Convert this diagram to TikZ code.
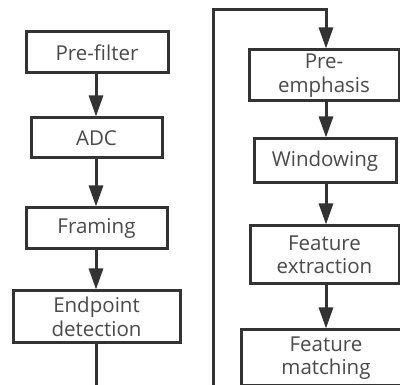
\documentclass[tikz,border=0pt]{standalone}
\usepackage{fontspec}
\setmainfont{Open Sans}
\usetikzlibrary{arrows.meta}
\definecolor{linec}{HTML}{333333}
\definecolor{textc}{HTML}{4A4A4A}
\tikzset{
  blk/.style={draw=linec, line width=3pt, fill=white, align=center, text=textc,
    font=\fontsize{20.5}{23.5}\selectfont, inner sep=0pt, anchor=center},
  conn/.style={draw=linec, line width=3pt, -{Triangle[length=21pt,width=14pt]}},
  plain/.style={draw=linec, line width=3pt}
}
\begin{document}
\begin{tikzpicture}[x=1pt,y=-1pt]
\useasboundingbox (0,0) rectangle (400,385);
\clip (0,0) rectangle (400,385);
\fill[white] (0,0) rectangle (400,385);
\node[blk, minimum width=142pt, minimum height=41pt] (pf) at (97,52.5) {Pre-filter};
\node[blk, minimum width=131pt, minimum height=40pt] (adc) at (96.5,138) {ADC};
\node[blk, minimum width=141pt, minimum height=41pt] (fr) at (96.5,228.5) {Framing};
\node[blk, minimum width=167pt, minimum height=52pt] (ep) at (96.5,317) {Endpoint\\detection};
\node[blk, minimum width=150pt, minimum height=51pt] (pe) at (324,75.5) {Pre-\\emphasis};
\node[blk, minimum width=142pt, minimum height=44pt] (wi) at (325,161) {Windowing};
\node[blk, minimum width=149pt, minimum height=58pt] (fe) at (324.5,255) {Feature\\extraction};
\node[blk, minimum width=170pt, minimum height=56pt] (fm) at (326,358) {Feature\\matching};
\coordinate (c1) at (96,386.5);
\coordinate (c2) at (213,386.5);
\coordinate (c3) at (213,10);
\coordinate (c4) at (326,10);
\draw[conn] (pf.south -| 96,0) -- (adc.north -| 96,0);
\draw[conn] (adc.south -| 96,0) -- (fr.north -| 96,0);
\draw[conn] (fr.south -| 96,0) -- (ep.north -| 96,0);
\draw[conn] (ep.south -| 96,0) -- (c1) -- (c2) -- (c3) -- (c4) -- (pe.north -| c4);
\draw[conn] (pe.south -| c4) -- (wi.north -| c4);
\draw[conn] (wi.south -| c4) -- (fe.north -| c4);
\draw[conn] (fe.south -| c4) -- (fm.north -| c4);
\end{tikzpicture}
\end{document}
